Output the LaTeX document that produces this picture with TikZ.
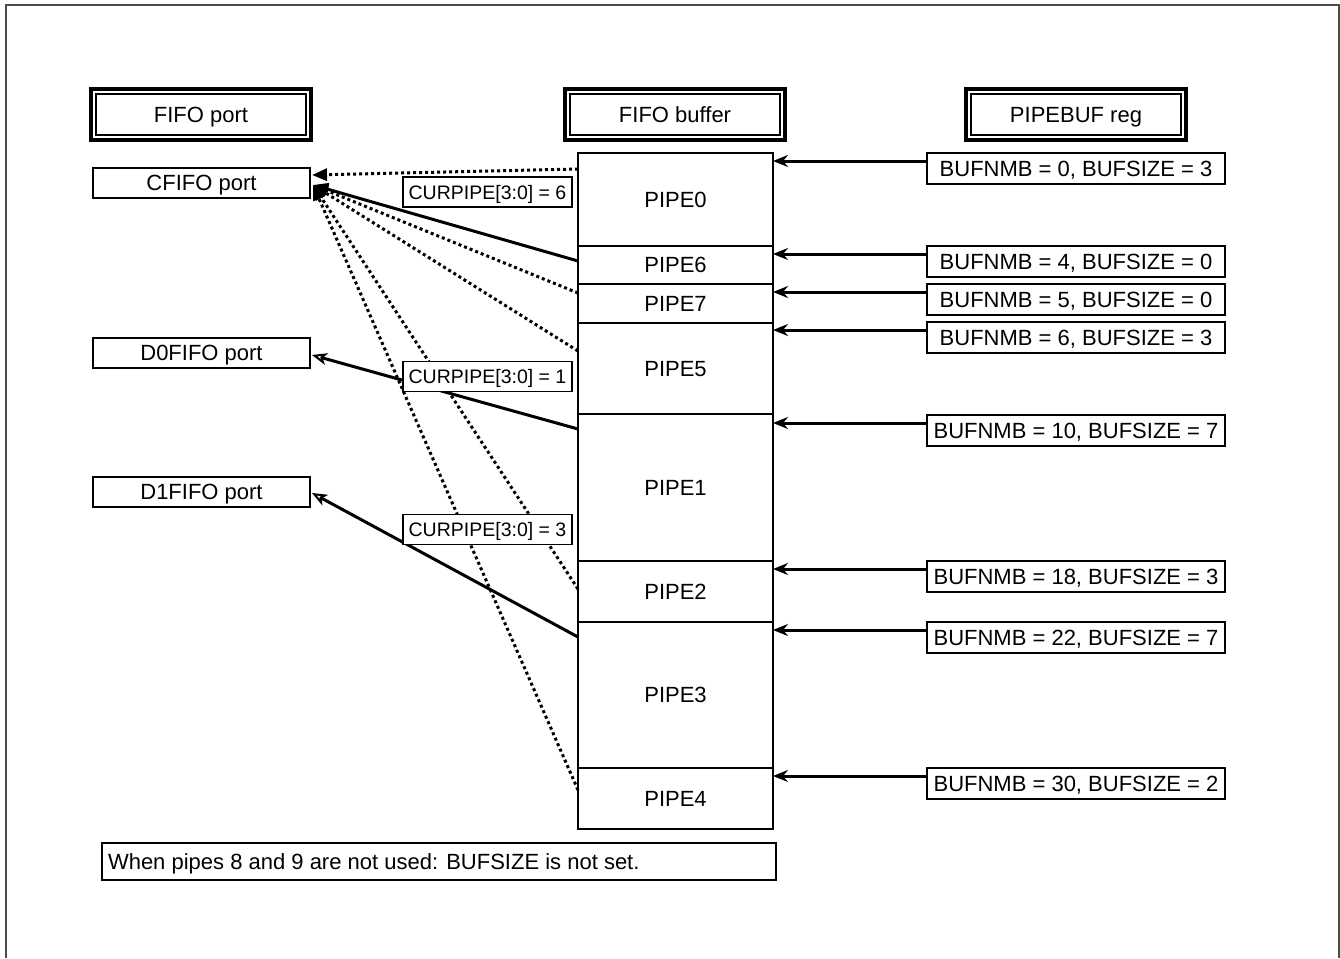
\documentclass[tikz,border=0pt]{standalone}
\usepackage{fontspec}
\setmainfont{Liberation Sans}
\usetikzlibrary{arrows.meta,calc}
\begin{document}
\begin{tikzpicture}[x=1pt,y=-1pt,
  every node/.style={inner sep=0pt, outer sep=0pt, text height=15.8pt, text depth=0pt, font=\fontsize{22}{26}\selectfont},
  titlebox/.style={draw, line width=4pt, minimum width=220pt, minimum height=51pt},
  portbox/.style={draw, line width=1.5pt, minimum width=217pt, minimum height=30pt},
  pipebox/.style={draw, line width=1.5pt, minimum width=195pt},
  regbox/.style={draw, line width=1.5pt, minimum width=298pt, minimum height=31pt},
  curbox/.style={draw, fill=white, line width=1.5pt, minimum width=169pt, minimum height=30pt, text height=14pt, font=\fontsize{19.5}{23}\selectfont},
  notebox/.style={draw, line width=1.5pt, minimum width=674pt, minimum height=37pt},
  regarrow/.style={line width=3pt, -{Stealth[length=15pt,width=12pt,inset=5pt]}},
  dotline/.style={line width=3pt, dash pattern=on 3pt off 3pt, -{Triangle[length=15pt,width=12pt]}},
  solidc/.style={line width=3pt, -{Triangle[length=15pt,width=12pt]}},
  solido/.style={line width=3pt, -{Stealth[open,length=15pt,width=12pt,inset=4pt,line width=2pt]}},
]
\useasboundingbox (0,0) rectangle (1340,958);
\draw[line width=2pt, black!70] (6,958) -- (6,5) -- (1339,5) -- (1339,958);

% titles
\node[titlebox] (t1) at (201,114.5) {FIFO port};
\node[titlebox] (t2) at (675,114.5) {FIFO buffer};
\node[titlebox] (t3) at (1076,114.5) {PIPEBUF reg};
\foreach \t in {t1,t2,t3}{
  \draw[line width=1.5pt] ([shift={(5,5)}]\t.north west) rectangle ([shift={(-5,-5)}]\t.south east);
}

% ports
\node[portbox] (cfifo) at (201.5,183) {CFIFO port};
\node[portbox] (d0fifo) at (201.5,353) {D0FIFO port};
\node[portbox] (d1fifo) at (201.5,492) {D1FIFO port};

% buffer
\node[pipebox, minimum height=93pt] (pipe0) at (675.5,199.5) {PIPE0};
\node[pipebox, minimum height=38pt] (pipe6) at (675.5,265) {PIPE6};
\node[pipebox, minimum height=39pt] (pipe7) at (675.5,303.5) {PIPE7};
\node[pipebox, minimum height=91pt] (pipe5) at (675.5,368.5) {PIPE5};
\node[pipebox, minimum height=147pt] (pipe1) at (675.5,487.5) {PIPE1};
\node[pipebox, minimum height=61pt] (pipe2) at (675.5,591.5) {PIPE2};
\node[pipebox, minimum height=146pt] (pipe3) at (675.5,695) {PIPE3};
\node[pipebox, minimum height=61pt] (pipe4) at (675.5,798.5) {PIPE4};

% registers
\node[regbox] (reg0) at (1076,168.5) {BUFNMB = 0, BUFSIZE = 3};
\node[regbox] (reg6) at (1076,261.5) {BUFNMB = 4, BUFSIZE = 0};
\node[regbox] (reg7) at (1076,299.5) {BUFNMB = 5, BUFSIZE = 0};
\node[regbox] (reg5) at (1076,337.5) {BUFNMB = 6, BUFSIZE = 3};
\node[regbox] (reg1) at (1076,430.5) {BUFNMB = 10, BUFSIZE = 7};
\node[regbox] (reg2) at (1076,576.5) {BUFNMB = 18, BUFSIZE = 3};
\node[regbox] (reg3) at (1076,637.5) {BUFNMB = 22, BUFSIZE = 7};
\node[regbox] (reg4) at (1076,783.5) {BUFNMB = 30, BUFSIZE = 2};

\foreach \r/\p in {reg0/pipe0,reg6/pipe6,reg7/pipe7,reg5/pipe5,reg1/pipe1,reg2/pipe2,reg3/pipe3,reg4/pipe4}{
  \coordinate (a\r) at ([yshift=-8pt]\r.north west);
  \draw[regarrow] (a\r) -- (a\r -| \p.east);
}

% connectors to ports
\coordinate (ctop) at ([xshift=2pt,yshift=8pt]cfifo.east);
\coordinate (cmain) at ([xshift=3pt,yshift=-2pt]cfifo.east);
\draw[dotline] ([yshift=-16pt]pipe0.north west) -- (ctop);
\draw[dotline] ([yshift=-9pt]pipe7.north west) -- (cmain);
\draw[dotline] ([yshift=-28pt]pipe5.north west) -- (cmain);
\draw[dotline] ([yshift=-28pt]pipe2.north west) -- (cmain);
\draw[dotline] ([yshift=-22pt]pipe4.north west) -- (cmain);
\draw[solidc] ([yshift=-15pt]pipe6.north west) -- (cmain);
\draw[solido] ([yshift=-15pt]pipe1.north west) -- ([xshift=2pt,yshift=-2pt]d0fifo.east);
\draw[solido] ([yshift=-15pt]pipe3.north west) -- ([xshift=2pt,yshift=-1pt]d1fifo.east);

% labels
\node[curbox] (cur6) at (487.5,192) {CURPIPE[3:0] = 6};
\node[curbox] (cur1) at (487.5,376.5) {CURPIPE[3:0] = 1};
\node[curbox] (cur3) at (487.5,529.5) {CURPIPE[3:0] = 3};

% note
\node[notebox] (note) at (439,861.5) {};
\node[anchor=west] (notetext) at (108,861.5) {When pipes 8 and 9 are not used: BUFSIZE is not set.};
\end{tikzpicture}
\end{document}
